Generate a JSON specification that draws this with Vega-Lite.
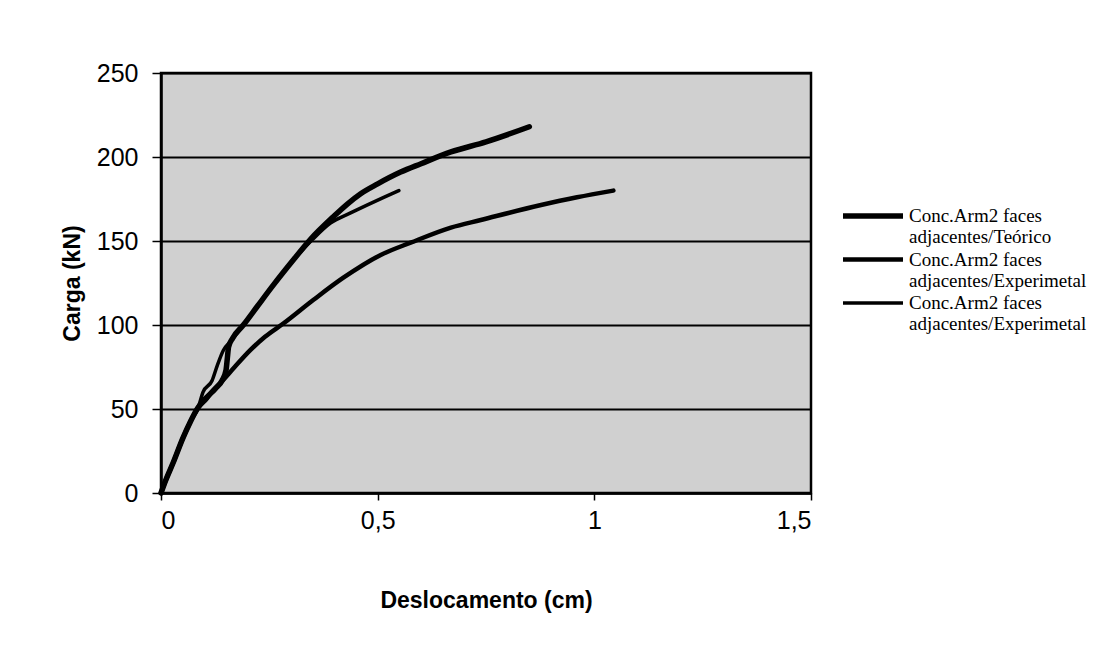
{
  "$schema": "https://vega.github.io/schema/vega-lite/v6.json",
  "width": 650,
  "height": 420,
  "autosize": {"type": "none"},
  "padding": {"left": 161, "top": 73, "right": 303, "bottom": 173},
  "background": "white",
  "data": {
    "values": [
      {"serie": "T", "d": 0, "carga": 0},
      {"serie": "T", "d": 0.01, "carga": 7},
      {"serie": "T", "d": 0.028, "carga": 18},
      {"serie": "T", "d": 0.051, "carga": 33},
      {"serie": "T", "d": 0.067, "carga": 42},
      {"serie": "T", "d": 0.086, "carga": 51},
      {"serie": "T", "d": 0.102, "carga": 56},
      {"serie": "T", "d": 0.125, "carga": 62},
      {"serie": "T", "d": 0.141, "carga": 67},
      {"serie": "T", "d": 0.15, "carga": 73},
      {"serie": "T", "d": 0.153, "carga": 80},
      {"serie": "T", "d": 0.156, "carga": 87},
      {"serie": "T", "d": 0.165, "carga": 92},
      {"serie": "T", "d": 0.19, "carga": 100},
      {"serie": "T", "d": 0.222, "carga": 111},
      {"serie": "T", "d": 0.26, "carga": 124},
      {"serie": "T", "d": 0.3, "carga": 137},
      {"serie": "T", "d": 0.345, "carga": 151},
      {"serie": "T", "d": 0.4, "carga": 165},
      {"serie": "T", "d": 0.43, "carga": 172},
      {"serie": "T", "d": 0.46, "carga": 178},
      {"serie": "T", "d": 0.5, "carga": 184},
      {"serie": "T", "d": 0.553, "carga": 191},
      {"serie": "T", "d": 0.6, "carga": 196},
      {"serie": "T", "d": 0.669, "carga": 203},
      {"serie": "T", "d": 0.75, "carga": 209},
      {"serie": "T", "d": 0.85, "carga": 218},

      {"serie": "E1", "d": 0, "carga": 0},
      {"serie": "E1", "d": 0.01, "carga": 7},
      {"serie": "E1", "d": 0.028, "carga": 18},
      {"serie": "E1", "d": 0.051, "carga": 33},
      {"serie": "E1", "d": 0.067, "carga": 42},
      {"serie": "E1", "d": 0.086, "carga": 51},
      {"serie": "E1", "d": 0.102, "carga": 55},
      {"serie": "E1", "d": 0.12, "carga": 61},
      {"serie": "E1", "d": 0.137, "carga": 65.5},
      {"serie": "E1", "d": 0.17, "carga": 75},
      {"serie": "E1", "d": 0.206, "carga": 85},
      {"serie": "E1", "d": 0.24, "carga": 93},
      {"serie": "E1", "d": 0.283, "carga": 101},
      {"serie": "E1", "d": 0.352, "carga": 115},
      {"serie": "E1", "d": 0.42, "carga": 128},
      {"serie": "E1", "d": 0.507, "carga": 141.7},
      {"serie": "E1", "d": 0.576, "carga": 149},
      {"serie": "E1", "d": 0.669, "carga": 158},
      {"serie": "E1", "d": 0.738, "carga": 162.5},
      {"serie": "E1", "d": 0.877, "carga": 171.4},
      {"serie": "E1", "d": 0.96, "carga": 176},
      {"serie": "E1", "d": 1.044, "carga": 180},

      {"serie": "E2", "d": 0, "carga": 0},
      {"serie": "E2", "d": 0.01, "carga": 7},
      {"serie": "E2", "d": 0.028, "carga": 18},
      {"serie": "E2", "d": 0.051, "carga": 33},
      {"serie": "E2", "d": 0.067, "carga": 42},
      {"serie": "E2", "d": 0.086, "carga": 51},
      {"serie": "E2", "d": 0.097, "carga": 60},
      {"serie": "E2", "d": 0.118, "carga": 67},
      {"serie": "E2", "d": 0.13, "carga": 76},
      {"serie": "E2", "d": 0.144, "carga": 85},
      {"serie": "E2", "d": 0.16, "carga": 90},
      {"serie": "E2", "d": 0.19, "carga": 100},
      {"serie": "E2", "d": 0.222, "carga": 111},
      {"serie": "E2", "d": 0.26, "carga": 124},
      {"serie": "E2", "d": 0.3, "carga": 137},
      {"serie": "E2", "d": 0.35, "carga": 151},
      {"serie": "E2", "d": 0.391, "carga": 160.7},
      {"serie": "E2", "d": 0.4375, "carga": 166.7},
      {"serie": "E2", "d": 0.514, "carga": 176},
      {"serie": "E2", "d": 0.549, "carga": 180}
    ]
  },
  "mark": {"type": "line", "color": "black", "strokeCap": "round", "strokeJoin": "round", "interpolate": "monotone"},
  "encoding": {
    "x": {
      "field": "d",
      "type": "quantitative",
      "scale": {"domain": [0, 1.5], "nice": false, "zero": true},
      "axis": {
        "values": [0, 0.5, 1, 1.5],
        "labelExpr": "replace(format(datum.value, '~g'), '.', ',')",
        "grid": false,
        "domainColor": "black",
        "domainWidth": 2.5,
        "tickColor": "black",
        "tickWidth": 1.5,
        "tickSize": 7,
        "labelColor": "black",
        "labelFont": "Liberation Sans",
        "labelFontSize": 25,
        "labelPadding": 8,
        "title": "Deslocamento (cm)",
        "titleColor": "black",
        "titleFont": "Liberation Sans",
        "titleFontSize": 23,
        "titleFontWeight": "bold",
        "titleBaseline": "middle",
        "titleY": 107
      }
    },
    "y": {
      "field": "carga",
      "type": "quantitative",
      "scale": {"domain": [0, 250], "nice": false},
      "axis": {
        "values": [0, 50, 100, 150, 200, 250],
        "grid": true,
        "gridColor": "black",
        "gridWidth": 2,
        "gridOpacity": 1,
        "domainColor": "black",
        "domainWidth": 2.5,
        "tickColor": "black",
        "tickWidth": 1.5,
        "tickSize": 9,
        "labelColor": "black",
        "labelFont": "Liberation Sans",
        "labelFontSize": 25,
        "labelPadding": 14,
        "title": "Carga (kN)",
        "titleColor": "black",
        "titleFont": "Liberation Sans",
        "titleFontSize": 23,
        "titleFontWeight": "bold",
        "titleAngle": -90,
        "titleAlign": "center",
        "titleBaseline": "middle",
        "titleX": -89,
        "titleY": 210
      }
    },
    "strokeWidth": {
      "field": "serie",
      "type": "ordinal",
      "scale": {"domain": ["T", "E1", "E2"], "range": [5.5, 3.5, 2]},
      "legend": {
        "orient": "none",
        "legendX": 719,
        "legendY": 130,
        "padding": 0,
        "title": null,
        "symbolType": "M-5,0H1",
        "symbolSize": 400,
        "symbolStrokeColor": "black",
        "symbolFillColor": "transparent",
        "labelExpr": "datum.value == 'T' ? ['Conc.Arm2 faces', 'adjacentes/Teórico'] : ['Conc.Arm2 faces', 'adjacentes/Experimetal']",
        "labelFont": "Liberation Serif",
        "labelFontSize": 19,
        "labelColor": "black",
        "labelBaseline": "middle",
        "labelLimit": 0,
        "labelOffset": 3,
        "rowPadding": -3
      }
    }
  },
  "config": {
    "view": {"fill": "#d0d0d0", "stroke": "black", "strokeWidth": 2.5},
    "style": {"guide-label": {"lineHeight": 21}}
  }
}
